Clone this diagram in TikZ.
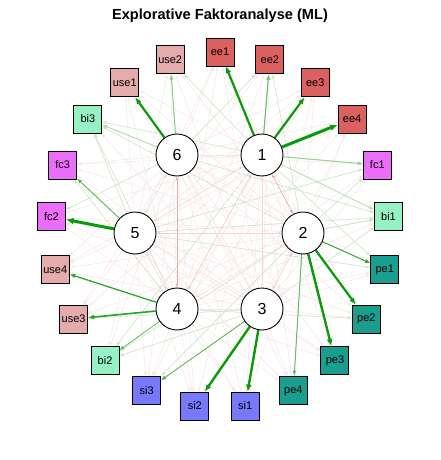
\documentclass[tikz,border=0pt]{standalone}
\usepackage{fontspec}
\setmainfont{Liberation Sans}
\usetikzlibrary{arrows.meta}
\pgfdeclarelayer{bg}
\pgfsetlayers{bg, main}

\definecolor{eecol}{RGB}{219,96,96}
\definecolor{usecol}{RGB}{228,172,172}
\definecolor{bicol}{RGB}{150,242,196}
\definecolor{fccol}{RGB}{235,110,250}
\definecolor{pecol}{RGB}{26,158,143}
\definecolor{sicol}{RGB}{120,120,250}
\definecolor{poscol}{RGB}{10,155,10}
\definecolor{negcol}{RGB}{205,70,70}

\begin{document}
\begin{tikzpicture}[x=1pt, y=1pt,
    factor/.style={circle, draw, line width=0.9pt, fill=white, minimum size=42pt, inner sep=0pt, font=\fontsize{16}{16}\selectfont},
    item/.style={rectangle, draw, line width=0.9pt, fill=#1, minimum size=28pt, inner sep=0pt, font=\fontsize{11}{11}\selectfont},
    load/.style={->, >={Latex[length=4pt 1.2,width=3pt 1.2]}, draw=poscol!#1},
    weak/.style={->, >={Latex[length=4pt,width=3pt]}, draw=#1, line width=0.5pt},
    corr/.style={<->, >={Latex[length=4pt,width=3pt]}, draw=negcol!#1, line width=0.6pt}]

        \useasboundingbox (-220,-230) rectangle (220,230);

        %title
        \node[font=\fontsize{14.6}{14.6}\bfseries\selectfont] (title) at (0,214) {Explorative Faktoranalyse (ML)};

        %factors
        \node[factor] (f1) at (42,75) {1};
        \node[factor] (f2) at (83,-3) {2};
        \node[factor] (f3) at (42,-79) {3};
        \node[factor] (f4) at (-43,-79) {4};
        \node[factor] (f5) at (-85,-3) {5};
        \node[factor] (f6) at (-43,75) {6};

        %items
        \foreach \name/\col [count=\k from 0] in {ee1/eecol, ee2/eecol, ee3/eecol, ee4/eecol, fc1/fccol, bi1/bicol, pe1/pecol, pe2/pecol, pe3/pecol, pe4/pecol, si1/sicol, si2/sicol, si3/sicol, bi2/bicol, use3/usecol, use4/usecol, fc2/fccol, fc3/fccol, bi3/bicol, use1/usecol, use2/usecol}
            \node[item=\col] (\name) at ({90-\k*360/21}:169 and 178) {\name};

        \begin{pgfonlayer}{bg}
            %weak loadings
            \foreach \f in {1,...,6}
                \foreach \i in {ee1, ee2, ee3, ee4, fc1, bi1, pe1, pe2, pe3, pe4, si1, si2, si3, bi2, use3, use4, fc2, fc3, bi3, use1, use2}
                    \draw[weak=negcol!14] (f\f) -- (\i);
            \foreach \f/\i in {1/bi3, 1/use2, 1/pe1, 1/bi2, 2/fc1, 2/ee2, 2/bi3, 2/bi2, 2/si3, 5/bi3, 5/fc1, 5/bi1, 6/bi1, 6/fc2, 6/ee2, 3/bi2, 3/use3, 3/bi1, 4/bi3, 4/fc3, 4/pe2, 5/pe1}
                \draw[weak=poscol!22] (f\f) -- (\i);

            %factor correlations
            \path
                (f1) edge[corr=50] (f2)
                (f6) edge[corr=45] (f4)
                (f1) edge[corr=32] (f4)
                (f5) edge[corr=24] (f2)
                (f1) edge[corr=20] (f3)
                (f1) edge[corr=24] (f5)
                (f6) edge[corr=22] (f5)
                (f5) edge[corr=22] (f4)
                (f2) edge[corr=28] (f3)
                (f2) edge[corr=18] (f4)
                (f6) edge[corr=14] (f2)
                (f6) edge[corr=18] (f3)
                (f5) edge[corr=18] (f3)
                (f6) edge[corr=14] (f1)
                (f4) edge[corr=14] (f3);

            %loadings
            \path
                (f1) edge[load=100, line width=2.2pt] (ee1)
                (f1) edge[load=60, line width=1.2pt] (ee2)
                (f1) edge[load=100, line width=2.2pt] (ee3)
                (f1) edge[load=100, line width=3pt] (ee4)
                (f1) edge[load=45, line width=1pt] (fc1)
                (f1) edge[load=30, line width=0.8pt] (bi1)
                (f6) edge[load=100, line width=2.2pt] (use1)
                (f6) edge[load=50, line width=1pt] (use2)
                (f6) edge[load=35, line width=0.8pt] (bi3)
                (f5) edge[load=100, line width=3pt] (fc2)
                (f5) edge[load=75, line width=0.8pt] (fc3)
                (f4) edge[load=85, line width=1.3pt] (use4)
                (f4) edge[load=90, line width=1.6pt] (use3)
                (f4) edge[load=65, line width=0.8pt] (bi2)
                (f3) edge[load=100, line width=2.4pt] (si1)
                (f3) edge[load=100, line width=2.4pt] (si2)
                (f3) edge[load=75, line width=0.8pt] (si3)
                (f2) edge[load=85, line width=1pt] (pe1)
                (f2) edge[load=100, line width=2.2pt] (pe2)
                (f2) edge[load=100, line width=2.4pt] (pe3)
                (f2) edge[load=65, line width=1pt] (pe4)
                (f2) edge[load=25, line width=0.7pt] (bi1);
        \end{pgfonlayer}

\end{tikzpicture}
\end{document}
